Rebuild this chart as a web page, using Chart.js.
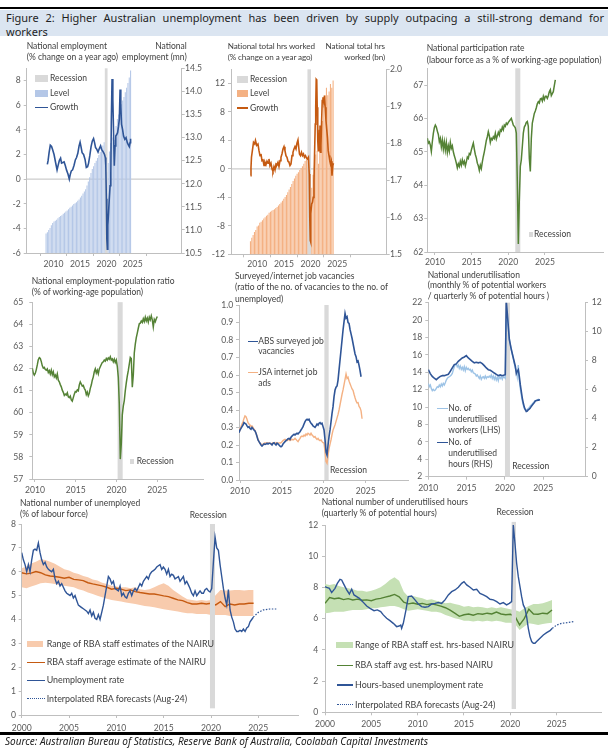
<!DOCTYPE html>
<html><head><meta charset="utf-8">
<script src="https://cdn.jsdelivr.net/npm/chart.js@4.4.1/dist/chart.umd.min.js"></script>
<style>
body{margin:0;background:#fff}
#page{position:relative;width:608px;height:753px;overflow:hidden;font-family:Lato,"Liberation Sans",sans-serif;color:#404040}
#page canvas{position:absolute}
.t{position:absolute;font-size:8.5px;line-height:10.6px;white-space:nowrap}
.r{text-align:right}
.sw{position:absolute}
.hd{position:absolute;left:6px;width:598px;font:11px/14px 'Noto Sans',sans-serif;color:#1f1f1f}
</style></head><body><div id="page">
<div class="sw" style="left:0;top:7.3px;width:608px;height:2.2px;background:#000"></div>
<div class="sw" style="left:0;top:9.5px;width:608px;height:26.8px;background:#dbe5f1"></div>
<div class="hd" style="top:11.3px;text-align:justify;text-align-last:justify;white-space:nowrap">Figure 2: Higher Australian unemployment has been driven by supply outpacing a still-strong demand for</div>
<div class="hd" style="top:25.3px">workers</div>

<canvas id="c1"></canvas><canvas id="c2"></canvas><canvas id="c3"></canvas>
<canvas id="c4"></canvas><canvas id="c5"></canvas><canvas id="c6"></canvas>
<canvas id="c7"></canvas><canvas id="c8"></canvas>

<!-- panel 1 -->
<div class="t" style="left:26.7px;top:41.4px">National employment<br>(% change on a year ago)</div>
<div class="t r" style="right:421.3px;top:41.4px">National<br>employment (mn)</div>
<div class="sw" style="left:35px;top:75.2px;width:13px;height:7px;background:#d9d9d9"></div>
<div class="t" style="left:50px;top:73.4px">Recession</div>
<div class="sw" style="left:35px;top:90px;width:13px;height:6.7px;background:#b4c7e7"></div>
<div class="t" style="left:50px;top:88px">Level</div>
<div class="sw" style="left:35px;top:106.9px;width:13px;height:1.6px;background:#2f5597"></div>
<div class="t" style="left:50px;top:102.4px">Growth</div>
<!-- panel 2 -->
<div class="t" style="left:227.7px;top:41.4px;font-size:8.1px;letter-spacing:-0.1px">National total hrs worked<br>(% change on a year ago)</div>
<div class="t r" style="right:223px;top:41.4px;font-size:8.1px;letter-spacing:-0.1px">National total hrs<br>worked (bn)</div>
<div class="sw" style="left:236.7px;top:76px;width:11.7px;height:6.7px;background:#d9d9d9"></div>
<div class="t" style="left:250px;top:74px">Recession</div>
<div class="sw" style="left:236.7px;top:90px;width:11.7px;height:6.7px;background:#f4b183"></div>
<div class="t" style="left:250px;top:88px">Level</div>
<div class="sw" style="left:236.7px;top:107.2px;width:11.7px;height:1.6px;background:#c55a11"></div>
<div class="t" style="left:250px;top:102.7px">Growth</div>
<!-- panel 3 -->
<div class="t" style="left:426.7px;top:41.5px;line-height:12px">National participation rate<br>(labour force as a % of working-age population)</div>
<div class="sw" style="left:528.7px;top:231.7px;width:4.7px;height:5.7px;background:#d9d9d9"></div>
<div class="t" style="left:534px;top:229px">Recession</div>
<!-- panel 4 -->
<div class="t" style="left:31.7px;top:276.4px;line-height:11px">National employment-population ratio<br>(% of working-age population)</div>
<div class="sw" style="left:130px;top:459px;width:3.7px;height:5.3px;background:#d9d9d9"></div>
<div class="t" style="left:136.7px;top:456.4px">Recession</div>
<!-- panel 5 -->
<div class="t" style="left:235px;top:271.1px;line-height:11.3px">Surveyed/internet job vacancies<br>(ratio of the no. of vacancies to the no. of<br>unemployed)</div>
<div class="sw" style="left:248.3px;top:340.9px;width:9.4px;height:1.6px;background:#2f5597"></div>
<div class="t" style="left:258.3px;top:336.4px;line-height:10px">ABS surveyed job<br>vacancies</div>
<div class="sw" style="left:248.3px;top:371.9px;width:9.4px;height:1.6px;background:#f4b183"></div>
<div class="t" style="left:258.3px;top:367.4px">JSA internet job<br>ads</div>
<div class="t" style="left:330px;top:464.7px">Recession</div>
<!-- panel 6 -->
<div class="t" style="left:427.7px;top:269.5px;line-height:10.9px">National underutilisation<br>(monthly % of potential workers<br>/ quarterly % of potential hours )</div>
<div class="sw" style="left:436.7px;top:407.5px;width:11px;height:1.6px;background:#9dc3e6"></div>
<div class="t" style="left:448.3px;top:403px;line-height:10.85px">No. of<br>underutilised<br>workers (LHS)</div>
<div class="sw" style="left:436.7px;top:441.9px;width:11px;height:1.6px;background:#2f5597"></div>
<div class="t" style="left:448.3px;top:437.4px;line-height:10.85px">No. of<br>underutilised<br>hours (RHS)</div>
<div class="t" style="left:512.3px;top:461.4px">Recession</div>
<!-- panel 7 -->
<div class="t" style="left:20px;top:497.5px;line-height:11.3px">National number of unemployed<br>(% of labour force)</div>
<div class="t" style="left:208.3px;top:509.7px;transform:translateX(-50%)">Recession</div>
<div class="sw" style="left:26.7px;top:640.7px;width:16.6px;height:6.6px;background:#f8cbad"></div>
<div class="t" style="left:46.7px;top:638.7px;font-size:8.9px">Range of RBA staff estimates of the NAIRU</div>
<div class="sw" style="left:26.7px;top:661.9px;width:18.3px;height:1.6px;background:#c55a11"></div>
<div class="t" style="left:46.7px;top:657.4px;font-size:8.9px">RBA staff average estimate of the NAIRU</div>
<div class="sw" style="left:26.7px;top:679.9px;width:18.3px;height:1.6px;background:#2f5597"></div>
<div class="t" style="left:46.7px;top:675.4px;font-size:8.9px">Unemployment rate</div>
<div class="sw" style="left:26.7px;top:698.4px;width:18.3px;height:0;border-top:1.4px dotted #2f5597"></div>
<div class="t" style="left:46.7px;top:693.7px;font-size:8.9px">Interpolated RBA forecasts (Aug-24)</div>
<!-- panel 8 -->
<div class="t" style="left:321.7px;top:496.5px;line-height:11px">National number of underutilised hours<br>(quarterly % of potential hours)</div>
<div class="t" style="left:515px;top:506.7px;transform:translateX(-50%)">Recession</div>
<div class="sw" style="left:336px;top:642px;width:17.3px;height:6px;background:#c5e0b4"></div>
<div class="t" style="left:355px;top:639.7px;font-size:8.9px">Range of RBA staff est. hrs-based NAIRU</div>
<div class="sw" style="left:336.7px;top:664.9px;width:16.6px;height:1.6px;background:#548235"></div>
<div class="t" style="left:355px;top:660.4px;font-size:8.9px">RBA staff avg est. hrs-based NAIRU</div>
<div class="sw" style="left:336.7px;top:684.2px;width:16.6px;height:1.6px;background:#2f5597"></div>
<div class="t" style="left:355px;top:679.7px;font-size:8.9px">Hours-based unemployment rate</div>
<div class="sw" style="left:336.7px;top:704.3px;width:16.6px;height:0;border-top:1.4px dotted #2f5597"></div>
<div class="t" style="left:355px;top:699.7px;font-size:8.9px">Interpolated RBA forecasts (Aug-24)</div>

<div class="sw" style="left:0;top:732px;width:608px;height:2.7px;background:#000"></div>
<div class="t" style="left:5px;top:735px;font:italic 10px/12px 'Noto Sans',sans-serif;color:#222">Source: Australian Bureau of Statistics, Reserve Bank of Australia, Coolabah Capital Investments</div>
</div>
<script>
// ---- data ----
const yearTicks10 = [2010, 2015, 2020, 2025];
const yearTicks00 = [2000, 2005, 2010, 2015, 2020, 2025];

// panel 1: employment growth (% y/y) and level (mn)
const p1Growth = [[2008.82,1.2],[2008.96,1.5],[2009.15,2.15],[2009.38,2.75],[2009.62,2.65],[2009.81,2.4],[2010.09,2.0],[2010.38,1.35],[2010.66,0.75],[2010.85,1.1],[2011.09,1.5],[2011.33,1.7],[2011.51,1.3],[2011.75,1.35],[2011.99,1.4],[2012.22,1.1],[2012.46,0.73],[2012.74,0.4],[2012.98,0.0],[2013.17,0.4],[2013.36,0.67],[2013.60,0.75],[2013.88,1.13],[2014.12,1.56],[2014.35,1.75],[2014.59,2.1],[2014.83,2.7],[2015.02,3.0],[2015.21,2.6],[2015.40,2.15],[2015.68,2.0],[2015.96,1.6],[2016.20,0.94],[2016.44,1.0],[2016.63,1.3],[2016.86,1.9],[2017.10,2.64],[2017.34,3.1],[2017.57,3.3],[2017.76,2.96],[2017.95,2.56],[2018.19,2.42],[2018.42,2.2],[2018.66,2.48],[2018.90,2.7],[2019.09,2.42],[2019.28,2.29],[2019.47,2.15],[2019.65,2.0],[2019.80,1.75],[2019.89,1.08],[2019.99,-1.6],[2020.08,-4.85],[2020.18,-5.7],[2020.27,-3.77],[2020.41,-2.7],[2020.55,-1.6],[2020.70,-0.54],[2020.84,0.54],[2020.93,4.6],[2021.07,8.13],[2021.22,6.46],[2021.36,3.77],[2021.50,1.08],[2021.64,2.7],[2021.78,3.5],[2021.93,3.6],[2022.12,3.77],[2022.30,4.3],[2022.45,4.85],[2022.59,7.27],[2022.73,5.92],[2022.87,4.44],[2023.06,4.04],[2023.25,3.5],[2023.49,3.23],[2023.72,3.37],[2023.96,2.96],[2024.20,2.75],[2024.34,2.64],[2024.48,2.96],[2024.58,3.28]];
const p1Level = [10.92,10.95,11.00,11.04,11.10,11.15,11.18,11.20,11.22,11.25,
  11.28,11.30,11.32,11.35,11.37,11.40,11.42,11.45,11.48,11.50,
  11.53,11.56,11.58,11.60,11.63,11.66,11.70,11.74,11.79,11.83,
  11.88,11.96,12.05,12.14,12.23,12.32,12.38,12.45,12.50,12.56,
  12.62,12.69,12.76,12.83,12.90,12.95,12.25,12.45,12.70,12.88,
  13.00,13.05,12.95,13.25,13.40,13.50,13.60,13.72,13.80,13.88,
  13.98,14.08,14.18,14.30,14.45];
const p1LevelStart = 2008.58;
const p1Rec = [[2019.70, 2020.22]];
const p1LeftTicks = [-6, -4, -2, 0, 2, 4, 6, 8];
const p1RightTicks = [10.5, 11, 11.5, 12, 12.5, 13, 13.5, 14, 14.5];

// panel 2: total hours worked growth (% y/y) and level (bn)
const p2Growth = [[2008.73,-0.94],[2008.83,0.2],[2008.92,1.64],[2009.30,3.74],[2009.53,3.5],[2009.67,4.0],[2009.91,3.3],[2010.14,3.5],[2010.33,2.57],[2010.52,1.87],[2010.70,2.1],[2010.89,1.17],[2011.08,1.26],[2011.27,0.47],[2011.45,0.94],[2011.64,0.6],[2011.83,1.08],[2012.02,0.8],[2012.20,1.4],[2012.39,0.47],[2012.58,0.8],[2012.77,0.0],[2012.95,-0.33],[2013.14,0.33],[2013.33,-0.14],[2013.52,0.7],[2013.70,0.6],[2013.89,0.94],[2014.08,0.33],[2014.27,1.17],[2014.45,1.64],[2014.64,2.1],[2014.83,2.8],[2015.02,3.13],[2015.20,2.57],[2015.39,1.87],[2015.58,1.64],[2015.77,1.08],[2015.95,0.94],[2016.14,0.47],[2016.33,0.7],[2016.52,1.87],[2016.70,2.34],[2016.89,2.8],[2017.08,3.13],[2017.27,2.8],[2017.45,3.6],[2017.64,4.07],[2017.78,3.04],[2017.92,2.1],[2018.11,1.87],[2018.30,2.34],[2018.49,1.87],[2018.67,2.1],[2018.86,1.64],[2019.05,1.87],[2019.24,1.54],[2019.42,1.4],[2019.61,1.64],[2019.75,-0.7],[2019.85,-6.8],[2019.94,-10.06],[2019.99,-10.3],[2020.08,-6.3],[2020.22,-4.9],[2020.36,-4.7],[2020.50,-4.0],[2020.64,-1.64],[2020.78,3.04],[2020.88,6.3],[2020.97,8.66],[2021.06,12.6],[2021.16,12.5],[2021.25,8.66],[2021.35,4.0],[2021.44,2.57],[2021.58,3.04],[2021.67,5.4],[2021.77,6.1],[2021.86,2.34],[2021.95,3.27],[2022.05,6.1],[2022.19,9.6],[2022.33,10.06],[2022.47,9.36],[2022.61,10.3],[2022.75,8.66],[2022.89,6.8],[2023.03,5.6],[2023.17,4.44],[2023.31,2.57],[2023.46,1.87],[2023.60,1.17],[2023.74,0.7],[2023.88,1.08],[2024.02,-0.94],[2024.16,0.47],[2024.30,0.8]];
const p2Level = [1.535,1.545,1.552,1.560,1.566,1.575,1.578,1.585,1.588,1.592,
  1.597,1.600,1.604,1.607,1.612,1.615,1.618,1.620,1.622,1.625,
  1.628,1.632,1.636,1.640,1.645,1.650,1.655,1.660,1.668,1.675,
  1.682,1.690,1.698,1.705,1.712,1.718,1.722,1.728,1.733,1.738,
  1.745,1.752,1.757,1.762,1.745,1.640,1.680,1.715,1.740,1.770,
  1.780,1.745,1.800,1.830,1.860,1.900,1.930,1.950,1.930,1.940,
  1.960,1.950,1.970];
const p2LevelStart = 2008.73;
const p2Rec = [[2019.42, 2020.08]];
const p2LeftTicks = [-12, -8, -4, 0, 4, 8, 12];
const p2RightTicks = [1.5, 1.6, 1.7, 1.8, 1.9, 2.0];

// panel 3: participation rate
const p3Start = 2008.955, p3Step = 0.1364;
const p3Part = [65.41,65.26,65.30,65.20,65.01,65.30,65.55,65.72,65.80,65.74,
  65.62,65.52,65.30,65.40,65.15,65.35,65.08,65.30,65.05,65.28,
  64.98,65.18,65.02,65.28,65.10,65.18,65.00,64.88,64.78,64.66,
  64.52,64.64,64.56,64.72,64.60,64.76,64.64,64.72,64.58,64.70,
  64.84,64.80,64.95,64.92,65.05,65.16,65.26,65.08,64.92,64.82,
  64.66,64.58,64.44,64.60,64.50,64.70,64.86,65.00,65.16,65.34,
  65.45,65.60,65.48,65.28,65.40,65.36,65.45,65.40,65.55,65.38,
  65.48,65.58,65.50,65.66,65.62,65.74,65.66,65.80,65.76,65.86,
  65.82,65.88,65.92,65.96,66.00,65.90,65.80,65.76,65.72,65.56,
  64.10,62.24,63.56,64.56,64.76,65.16,65.56,65.74,65.80,65.88,
  65.91,65.76,64.80,64.41,65.40,65.86,66.00,66.15,66.22,66.32,
  66.44,66.50,66.46,66.58,66.60,66.52,66.66,66.56,66.66,66.66,
  66.60,66.68,66.80,66.86,66.68,66.74,66.80,66.98,67.15];
const p3Rec = [[2020.95, 2021.64]];
const p3Ticks = [62, 63, 64, 65, 66, 67];

// panel 4: employment-population ratio
const p4Start = 2009.67, p4Step = 0.1226;
const p4Ratio = [62.01,61.79,61.70,61.78,61.95,62.16,62.40,62.49,62.45,62.31,
  62.12,62.02,62.05,61.95,61.92,61.98,61.82,61.90,61.75,61.92,
  61.72,61.85,61.62,61.70,61.57,61.75,61.47,61.40,61.27,61.17,
  61.02,60.92,60.78,60.84,60.80,60.90,60.72,60.68,60.75,60.58,
  60.52,60.68,60.84,60.96,60.94,61.03,60.99,61.25,61.39,61.30,
  61.20,61.23,61.10,61.02,60.82,60.93,60.76,60.88,61.10,61.25,
  61.47,61.62,61.85,61.98,61.80,61.92,61.76,61.98,62.08,62.18,
  62.27,62.30,62.38,62.33,62.45,62.38,62.48,62.42,62.53,62.38,
  62.43,62.30,62.42,62.27,62.38,62.10,61.60,60.40,57.90,58.60,
  59.90,60.30,60.55,61.00,61.35,61.65,61.90,62.20,62.50,62.45,
  61.15,61.70,62.70,63.10,63.40,63.60,63.82,64.02,64.05,64.15,
  64.08,64.25,64.12,64.32,64.15,64.28,64.10,64.32,64.20,64.38,
  64.20,63.88,64.22,64.12,64.25,64.35];
const p4Rec = [[2020.13, 2020.75]];
const p4Ticks = [57, 58, 59, 60, 61, 62, 63, 64, 65];

// panel 5: vacancies to unemployed ratio
const p5Start = 2009.88, p5Step = 0.1194;
const p5Abs = [0.270,0.286,0.295,0.305,0.314,0.328,0.324,0.320,0.309,0.301,
  0.305,0.295,0.290,0.300,0.293,0.286,0.280,0.267,0.248,0.229,
  0.219,0.210,0.200,0.194,0.200,0.206,0.204,0.206,0.210,0.206,
  0.210,0.210,0.206,0.200,0.210,0.213,0.206,0.200,0.210,0.206,
  0.200,0.194,0.190,0.194,0.206,0.213,0.219,0.225,0.229,0.236,
  0.238,0.232,0.244,0.251,0.257,0.261,0.257,0.263,0.267,0.263,
  0.270,0.276,0.286,0.295,0.305,0.320,0.333,0.343,0.347,0.343,
  0.347,0.333,0.324,0.318,0.309,0.305,0.301,0.309,0.320,0.314,
  0.324,0.328,0.320,0.324,0.305,0.286,0.229,0.160,0.143,0.200,
  0.248,0.286,0.333,0.381,0.419,0.476,0.514,0.530,0.537,0.571,
  0.629,0.686,0.743,0.800,0.857,0.905,0.952,0.925,0.933,0.900,
  0.895,0.860,0.835,0.810,0.780,0.750,0.720,0.705,0.675,0.680,
  0.655,0.625,0.590];
const p5Jsa = [0.295,0.286,0.305,0.320,0.333,0.352,0.366,0.362,0.347,0.328,
  0.320,0.314,0.305,0.309,0.301,0.290,0.282,0.267,0.251,0.232,
  0.219,0.210,0.206,0.200,0.206,0.210,0.213,0.210,0.213,0.210,
  0.213,0.210,0.206,0.210,0.213,0.210,0.213,0.206,0.213,0.210,
  0.213,0.210,0.213,0.219,0.225,0.229,0.232,0.229,0.225,0.229,
  0.232,0.225,0.229,0.232,0.229,0.232,0.238,0.232,0.225,0.219,
  0.229,0.238,0.248,0.251,0.248,0.257,0.251,0.263,0.257,0.267,
  0.263,0.257,0.267,0.257,0.251,0.244,0.248,0.238,0.232,0.238,
  0.229,0.225,0.229,0.219,0.213,0.210,0.162,0.105,0.095,0.140,
  0.180,0.205,0.230,0.260,0.285,0.300,0.315,0.335,0.355,0.375,
  0.400,0.430,0.460,0.490,0.515,0.545,0.575,0.606,0.580,0.587,
  0.565,0.550,0.535,0.520,0.512,0.490,0.470,0.452,0.440,0.442,
  0.420,0.412,0.395,0.350];
const p5Rec = [[2020.07, 2020.58]];
const p5Ticks = [0, 0.1, 0.2, 0.3, 0.4, 0.5, 0.6, 0.7, 0.8, 0.9, 1.0];

// panel 6: underutilisation (workers LHS monthly, hours RHS quarterly)
const p6Start = 2010.0, p6Step = 0.1304;
const p6Workers = [12.73,12.34,12.54,12.15,11.89,12.04,11.89,11.96,12.15,12.34,
  12.27,12.54,12.34,12.65,12.42,12.73,12.54,12.80,13.11,13.30,
  13.42,13.49,13.57,13.69,13.88,14.26,14.64,14.84,14.95,14.64,
  14.84,14.45,14.72,14.34,14.57,14.26,14.64,14.18,14.57,14.34,
  14.45,14.26,14.34,14.07,14.26,13.95,13.88,13.80,13.57,13.69,
  13.49,13.30,13.57,13.19,13.42,13.49,13.30,13.57,13.30,13.49,
  13.42,13.57,13.42,13.69,13.30,13.57,13.19,13.49,13.11,13.42,
  13.03,13.57,13.30,13.49,13.19,13.49,13.42,13.30,20.0,20.4,
  19.2,17.9,17.2,16.6,16.1,15.6,15.0,14.5,14.26,13.49,
  14.84,13.11,12.15,11.39,10.74,10.24,9.85,9.74,9.66,9.74,
  9.85,9.97,10.12,10.24,10.35,10.51,10.62,10.74,10.78,10.82,
  10.88,10.92];
const p6Hours = [[2010.00,7.38],[2010.26,7.11],[2010.52,6.92],[2010.78,6.79],[2011.04,6.69],[2011.30,6.81],[2011.57,6.92],[2011.83,6.97],[2012.09,6.97],[2012.35,7.02],[2012.61,7.06],[2012.87,7.27],[2013.13,7.50],[2013.39,7.73],[2013.65,7.78],[2013.91,7.96],[2014.17,8.08],[2014.43,8.19],[2014.70,8.26],[2014.96,8.35],[2015.22,8.19],[2015.48,8.08],[2015.74,7.96],[2016.00,7.85],[2016.26,7.89],[2016.52,7.85],[2016.78,7.89],[2017.04,7.80],[2017.30,7.66],[2017.57,7.50],[2017.83,7.38],[2018.09,7.34],[2018.35,7.25],[2018.61,7.15],[2018.87,7.06],[2019.13,6.97],[2019.39,7.02],[2019.65,6.97],[2019.91,7.02],[2020.04,7.04],[2020.17,12.12],[2020.30,11.31],[2020.57,9.46],[2020.83,8.77],[2021.09,8.19],[2021.35,7.62],[2021.48,7.11],[2021.61,7.27],[2021.74,7.38],[2021.87,6.92],[2022.00,6.35],[2022.13,5.89],[2022.26,5.42],[2022.39,5.08],[2022.52,4.80],[2022.65,4.62],[2022.78,4.50],[2022.91,4.52],[2023.04,4.62],[2023.17,4.66],[2023.30,4.73],[2023.43,4.85],[2023.57,4.94],[2023.70,5.03],[2023.83,5.12],[2023.96,5.22],[2024.13,5.25],[2024.35,5.28],[2024.57,5.31]];
const p6Rec = [[2020.00, 2020.65]];
const p6LeftTicks = [2, 4, 6, 8, 10, 12, 14, 16, 18, 20, 22];
const p6RightTicks = [0, 2, 4, 6, 8, 10, 12];

// panel 7: unemployment rate vs NAIRU (half-yearly band/average)
const p7BandHi = [6.15,6.22,6.35,6.42,6.52,6.49,6.42,6.33,6.22,6.10,
  6.05,5.96,5.91,5.82,5.77,5.68,5.63,5.54,5.49,5.41,
  5.38,5.35,5.35,5.31,5.35,5.27,5.24,5.27,5.35,5.45,
  5.52,5.41,5.24,5.10,4.96,4.85,4.82,4.79,4.82,4.79,
  4.82,5.03,5.24,5.21,5.21,5.24,5.24,5.21,5.24,5.24];
const p7BandLo = [5.35,5.31,5.38,5.45,5.52,5.54,5.52,5.49,5.45,5.41,
  5.38,5.35,5.27,5.21,5.13,5.07,4.99,4.93,4.87,4.82,
  4.79,4.75,4.71,4.68,4.65,4.61,4.57,4.54,4.51,4.47,
  4.43,4.40,4.37,4.33,4.29,4.26,4.26,4.23,4.23,4.23,
  4.19,4.19,4.19,4.19,4.15,4.15,4.15,4.15,4.15,4.15];
const p7Nairu = [5.96,5.91,5.94,6.01,5.96,5.87,5.82,5.80,5.77,5.73,
  5.77,5.68,5.66,5.63,5.54,5.49,5.45,5.41,5.35,5.27,
  5.31,5.27,5.21,5.24,5.17,5.13,5.10,5.07,5.07,5.03,
  4.99,4.96,4.89,4.82,4.79,4.71,4.65,4.65,4.68,4.65,
  4.68,4.61,4.75,4.54,4.65,4.61,4.65,4.65,4.68,4.68];
const p7Unemp = [6.8,6.5,6.3,6.0,6.3,6.0,6.5,6.9,6.95,6.9,
  7.2,6.8,6.5,6.3,6.4,6.2,6.1,6.05,6.0,6.1,
  5.7,5.5,5.6,5.4,5.5,5.35,5.2,5.1,5.05,5.0,
  5.1,4.9,5.0,4.8,4.6,4.55,4.5,4.45,4.4,4.35,
  4.25,4.4,4.15,4.3,4.05,4.0,4.2,4.0,4.3,4.6,
  5.0,5.4,5.8,5.7,5.5,5.6,5.3,5.25,5.2,5.4,
  5.0,5.1,4.95,4.9,5.1,5.2,5.0,5.2,5.3,5.2,
  5.35,5.5,5.4,5.6,5.7,5.8,5.7,5.9,6.0,6.05,
  6.1,6.2,6.25,6.3,6.1,6.2,6.1,5.9,6.1,5.8,
  5.9,5.85,5.7,5.75,5.8,5.6,5.7,5.8,5.5,5.6,
  5.45,5.3,5.1,5.0,5.2,5.0,5.1,5.2,5.1,5.1,
  5.25,5.3,5.2,5.15,5.3,6.4,7.45,7.0,6.9,6.3,
  5.8,5.3,4.9,4.6,5.25,4.4,4.1,3.9,3.6,3.5,
  3.5,3.55,3.5,3.6,3.5,3.65,3.7,3.9,4.0,4.1];
const p7UnempStep = 0.1761;
const p7Fcast = [[2024.47,4.1],[2025.0,4.3],[2025.53,4.4],[2026.23,4.44],[2026.94,4.44]];
const p7Rec = [[2019.89, 2020.42]];
const p7Ticks = [0, 1, 2, 3, 4, 5, 6, 7, 8];

// panel 8: hours-based underutilisation vs hours-based NAIRU
const p8BandHi = [8.22,8.16,8.22,8.09,8.01,7.94,7.88,7.79,7.79,7.73,
  7.79,7.88,8.01,8.22,8.48,8.65,8.43,7.73,7.41,7.45,
  7.37,7.30,7.20,7.24,7.15,7.09,6.98,7.02,6.94,6.88,
  6.77,6.81,6.73,6.77,6.73,6.66,6.73,6.66,6.73,6.66,
  6.60,6.56,6.45,6.66,6.81,6.94,6.94,6.98,7.09,7.20];
const p8BandLo = [6.34,6.38,6.45,6.45,6.45,6.51,6.56,6.56,6.56,6.60,
  6.66,6.66,6.73,6.77,6.81,6.81,6.73,6.60,6.51,6.56,
  6.60,6.56,6.51,6.45,6.45,6.38,6.24,6.13,6.02,5.96,
  5.87,5.87,5.81,5.87,5.81,5.87,5.81,5.87,5.81,5.74,
  5.74,5.66,5.27,5.49,5.70,5.66,5.59,5.66,5.70,5.74];
const p8Nairu = [6.98,7.35,7.28,7.32,7.22,7.28,7.20,7.25,7.18,7.20,
  7.15,7.25,7.30,7.38,7.45,7.55,7.40,7.05,6.95,7.00,
  6.92,6.98,6.90,6.95,6.88,6.80,6.70,6.55,6.35,6.15,
  6.25,6.30,6.22,6.32,6.28,6.35,6.30,6.42,6.30,6.25,
  6.28,6.15,5.60,6.00,6.60,6.30,6.28,6.35,6.32,6.55];
const p8Rate = [[2000.00,8.05],[2000.18,8.00],[2000.47,7.94],[2000.72,7.67],[2001.08,7.94],[2001.33,8.26],[2001.62,8.52],[2001.80,8.48],[2001.98,8.26],[2002.34,7.84],[2002.63,7.58],[2002.88,7.88],[2003.13,7.52],[2003.42,7.41],[2003.71,7.30],[2004.06,7.09],[2004.50,6.81],[2004.86,6.66],[2005.29,6.51],[2005.65,6.56],[2006.01,6.45],[2006.29,6.24],[2006.65,6.02],[2007.01,5.87],[2007.37,5.70],[2007.73,5.49],[2007.99,5.53],[2008.17,5.59],[2008.27,5.38],[2008.45,5.70],[2008.74,6.56],[2008.99,7.41],[2009.35,7.45],[2009.71,7.20],[2010.07,6.94],[2010.43,6.77],[2010.79,6.73],[2011.15,6.77],[2011.51,6.94],[2011.87,6.98],[2012.23,7.03],[2012.59,6.98],[2012.95,7.20],[2013.31,7.52],[2013.67,7.73],[2014.03,7.84],[2014.39,8.01],[2014.75,8.26],[2015.00,8.37],[2015.29,8.16],[2015.65,8.01],[2016.01,7.84],[2016.37,7.88],[2016.73,7.62],[2017.09,7.52],[2017.45,7.41],[2017.81,7.24],[2018.17,7.20],[2018.53,7.09],[2018.88,6.94],[2019.24,7.03],[2019.60,6.88],[2019.89,6.98],[2020.14,7.09],[2020.32,12.0],[2020.50,10.83],[2020.68,9.55],[2020.86,8.69],[2021.04,8.05],[2021.22,7.41],[2021.40,6.88],[2021.58,6.66],[2021.76,6.13],[2021.94,5.38],[2022.12,4.85],[2022.30,4.53],[2022.48,4.42],[2022.66,4.42],[2022.84,4.53],[2023.20,4.74],[2023.56,4.95],[2023.92,5.10],[2024.28,5.23],[2024.53,5.38]];
const p8Fcast = [[2024.53,5.38],[2025.0,5.59],[2025.54,5.70],[2026.08,5.74],[2026.80,5.81]];
const p8Rec = [[2020.14, 2020.61]];
const p8Ticks = [0, 2, 4, 6, 8, 10, 12];

// ---- helpers ----
Chart.defaults.font.family = 'Lato, "Liberation Sans", sans-serif';
Chart.defaults.font.size = 8.6;
Chart.defaults.color = '#595959';
const AX = '#bfbfbf';
const BLUE = '#2f5597', ORANGE = '#c55a11', GREEN = '#548235';

const series = (x0, dx, ys) => ys.map((y, i) => ({ x: x0 + i * dx, y }));
const pairs = arr => arr.map(([x, y]) => ({ x, y }));
const line = (data, color, w, axis, extra) => Object.assign(
  { data, borderColor: color, borderWidth: w, pointRadius: 0, tension: 0, fill: false, yAxisID: axis || 'y' }, extra || {});

function shadeDraw(chart, o) {
  const { ctx, chartArea: ca, scales } = chart;
  const y = scales.y;
  ctx.save();
  ctx.fillStyle = '#d9d9d9';
  o.spans.forEach(([a, b]) => {
    const x0 = scales.x.getPixelForValue(a), x1 = scales.x.getPixelForValue(b);
    const y0 = o.yr ? y.getPixelForValue(o.yr[1]) : ca.top;
    const y1 = o.yr ? y.getPixelForValue(o.yr[0]) : ca.bottom;
    ctx.fillRect(x0, y0, x1 - x0, y1 - y0);
  });
  ctx.restore();
}
const shade = {
  id: 'shade',
  beforeDatasetsDraw(chart, args, o) {
    if (o.zero) {
      const { ctx, chartArea: ca } = chart;
      const yz = chart.scales.y.getPixelForValue(0);
      ctx.save(); ctx.strokeStyle = AX; ctx.lineWidth = 1;
      ctx.beginPath(); ctx.moveTo(ca.left, yz); ctx.lineTo(ca.right, yz); ctx.stroke();
      ctx.restore();
    }
    if (o.before === undefined) shadeDraw(chart, o);
  },
  beforeDatasetDraw(chart, args, o) {
    if (o.before === args.index) shadeDraw(chart, o);
  }
};

function axisY(pos, range, ticks, dec, w, gap) {
  return {
    type: 'linear', position: pos, min: range[0], max: range[1],
    afterBuildTicks: s => { s.ticks = ticks.map(v => ({ value: v })); },
    afterFit: s => { s.width = w; },
    grid: { drawOnChartArea: false, tickLength: 3, color: AX },
    border: { color: AX },
    ticks: { padding: gap - 3, autoSkip: false, callback: v => Number(v).toFixed(dec) }
  };
}

function build(id, cfg) {
  const el = document.getElementById(id);
  const { l, t, r, b } = cfg.box;
  const cl = Math.floor(l - cfg.ml), ct = Math.floor(t - 9);
  const cw = Math.ceil(r + cfg.mr) - cl, ch = Math.ceil(b + 20) - ct;
  el.width = cw; el.height = ch;
  el.style.left = cl + 'px'; el.style.top = ct + 'px';
  el.style.width = cw + 'px'; el.style.height = ch + 'px';
  const lw = l - cl, rw = cl + cw - r, tp = t - ct, bh = ct + ch - b;
  const scales = {
    x: {
      type: 'linear', min: cfg.x[0], max: cfg.x[1],
      afterBuildTicks: s => { s.ticks = cfg.xt.map(v => ({ value: v })); },
      afterFit: s => { s.height = bh; },
      grid: { drawOnChartArea: false, tickLength: 3, color: AX },
      border: { color: AX },
      ticks: { padding: cfg.xo - 3 - 5.2, maxRotation: 0, autoSkip: false, callback: v => String(v) }
    },
    y: axisY('left', cfg.y, cfg.yt, cfg.yd, lw, cfg.gap)
  };
  if (cfg.y2) scales.y2 = axisY('right', cfg.y2, cfg.y2t, cfg.y2d, rw, cfg.gap2);
  return new Chart(el, {
    type: 'line',
    data: { datasets: cfg.datasets },
    options: {
      responsive: false, animation: false,
      layout: { padding: { left: 0, top: tp, right: cfg.y2 ? 0 : rw, bottom: 0 } },
      scales,
      plugins: { legend: { display: false }, tooltip: { enabled: false }, shade: cfg.shade }
    },
    plugins: [shade]
  });
}

// ---- charts ----
build('c1', {
  box: { l: 26.7, t: 68.3, r: 181.7, b: 253 }, ml: 26, mr: 26,
  x: [2008.58, 2030.59], xt: yearTicks10, xo: 11.3,
  y: [-6, 9], yt: p1LeftTicks, yd: 0, gap: 6,
  y2: [10.5, 14.5], y2t: p1RightTicks, y2d: 1, gap2: 3.3,
  shade: { spans: p1Rec, before: 0, zero: true },
  datasets: [
    line(pairs(p1Growth), BLUE, 1.6),
    { type: 'bar', data: series(p1LevelStart, 0.25, p1Level), yAxisID: 'y2',
      backgroundColor: '#b4c7e7', barPercentage: 1, categoryPercentage: 0.8 }
  ]
});

build('c2', {
  box: { l: 231, t: 69.3, r: 386.7, b: 254.3 }, ml: 26, mr: 22,
  x: [2008.73, 2030.63], xt: yearTicks10, xo: 9.7,
  y: [-12, 14], yt: p2LeftTicks, yd: 0, gap: 6,
  y2: [1.5, 2.0], y2t: p2RightTicks, y2d: 1, gap2: 3.3,
  shade: { spans: p2Rec, before: 0, zero: true },
  datasets: [
    line(pairs(p2Growth), ORANGE, 1.6),
    { type: 'bar', data: series(p2LevelStart, 0.25, p2Level), yAxisID: 'y2',
      backgroundColor: '#f4b183', barPercentage: 1, categoryPercentage: 0.8 }
  ]
});

build('c3', {
  box: { l: 427.3, t: 68.3, r: 603, b: 252 }, ml: 20, mr: 5,
  x: [2008.95, 2032.92], xt: yearTicks10, xo: 10.7,
  y: [62, 67.5], yt: p3Ticks, yd: 0, gap: 4,
  shade: { spans: p3Rec },
  datasets: [line(series(p3Start, p3Step, p3Part), GREEN, 1.5)]
});

build('c4', {
  box: { l: 32.3, t: 300, r: 203, b: 479 }, ml: 28, mr: 4,
  x: [2009.67, 2030.6], xt: yearTicks10, xo: 11,
  y: [57, 65], yt: p4Ticks, yd: 0, gap: 9,
  shade: { spans: p4Rec },
  datasets: [line(series(p4Start, p4Step, p4Ratio), GREEN, 1.5)]
});

build('c5', {
  box: { l: 239, t: 305, r: 408, b: 480 }, ml: 24, mr: 6,
  x: [2009.88, 2030.05], xt: yearTicks10, xo: 11,
  y: [0, 1], yt: p5Ticks, yd: 1, gap: 5.7,
  shade: { spans: p5Rec },
  datasets: [
    line(series(p5Start, p5Step, p5Abs), BLUE, 1.6),
    line(series(p5Start, p5Step, p5Jsa), '#f4b183', 1.4)
  ]
});

build('c6', {
  box: { l: 428.3, t: 302.7, r: 585, b: 476.7 }, ml: 22, mr: 23,
  x: [2010.0, 2030.44], xt: yearTicks10, xo: 11.3,
  y: [2, 22], yt: p6LeftTicks, yd: 0, gap: 6,
  y2: [0, 12], y2t: p6RightTicks, y2d: 0, gap2: 6.7,
  shade: { spans: p6Rec },
  datasets: [
    line(pairs(p6Hours), BLUE, 1.6, 'y2'),
    line(series(p6Start, p6Step, p6Workers), '#9dc3e6', 1.4)
  ]
});

build('c7', {
  box: { l: 21.7, t: 524, r: 298, b: 715 }, ml: 21, mr: 4,
  x: [2000, 2029.19], xt: yearTicks00, xo: 13.3,
  y: [0, 8], yt: p7Ticks, yd: 0, gap: 5.7,
  shade: { spans: p7Rec, before: 1, yr: [0.28, 8] },
  datasets: [
    line(series(2000, p7UnempStep, p7Unemp), BLUE, 1.4),
    line(pairs(p7Fcast), BLUE, 1.2, 'y', { borderDash: [1.5, 1.5] }),
    line(series(2000, 0.5, p7Nairu), ORANGE, 1.4),
    line(series(2000, 0.5, p7BandHi), 'rgba(0,0,0,0)', 1, 'y', { fill: '+1', backgroundColor: '#f8cbad' }),
    line(series(2000, 0.5, p7BandLo), 'rgba(0,0,0,0)', 1)
  ]
});

build('c8', {
  box: { l: 325, t: 525, r: 601.7, b: 712.3 }, ml: 22, mr: 5,
  x: [2000, 2029.86], xt: yearTicks00, xo: 11.7,
  y: [0, 12], yt: p8Ticks, yd: 0, gap: 6.7,
  shade: { spans: p8Rec, before: 1, yr: [0.21, 12.2] },
  datasets: [
    line(pairs(p8Rate), BLUE, 1.4),
    line(pairs(p8Fcast), BLUE, 1.2, 'y', { borderDash: [1.5, 1.5] }),
    line(series(2000, 0.5, p8Nairu), GREEN, 1.4),
    line(series(2000, 0.5, p8BandHi), 'rgba(0,0,0,0)', 1, 'y', { fill: '+1', backgroundColor: '#c5e0b4' }),
    line(series(2000, 0.5, p8BandLo), 'rgba(0,0,0,0)', 1)
  ]
});
</script>
</body></html>
